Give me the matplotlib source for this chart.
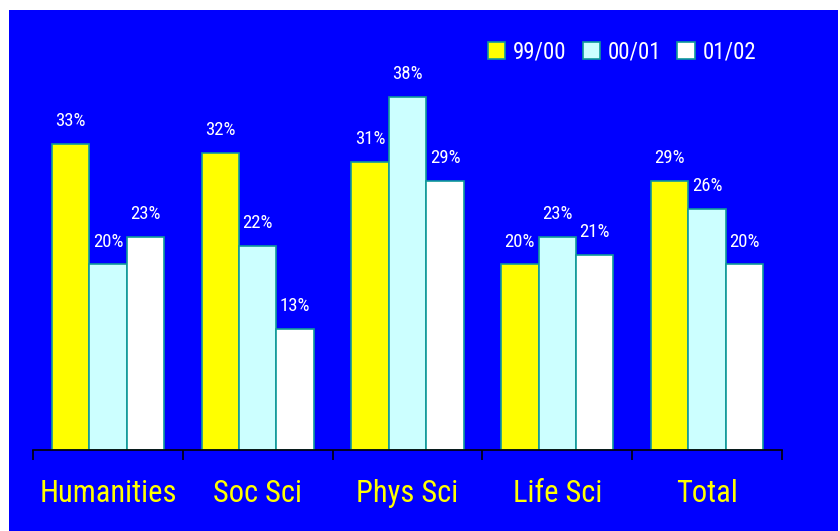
import matplotlib
matplotlib.use("Agg")
import matplotlib.pyplot as plt
from matplotlib.patches import Rectangle, Patch
import numpy as np

categories = ["Humanities", "Soc Sci", "Phys Sci", "Life Sci", "Total"]
series_names = ["99/00", "00/01", "01/02"]
v9900 = [33, 32, 31, 20, 29]
v0001 = [20, 22, 38, 23, 26]
v0102 = [23, 13, 29, 21, 20]
colors = ["#ffff00", "#ccffff", "#ffffff"]
edge = "#119999"
BLUE = "#0000ff"
FONT = ["Roboto Condensed", "DejaVu Sans"]

fig = plt.figure(figsize=(8.4, 5.31), dpi=100)
fig.patch.set_facecolor("white")
fig.add_artist(Rectangle((9/840, 0), (838-9)/840, (531-10)/531,
                         transform=fig.transFigure, facecolor=BLUE,
                         edgecolor="none", zorder=0))

left, right = 33/840, 782/840
bottom = (531-450)/531
top_px = 10
ax = fig.add_axes([left, bottom, right-left, (450-top_px)/531])
ax.set_facecolor("none")
ppu = 9.28
ax.set_ylim(0, (450-top_px)/ppu)
ax.set_xlim(0, len(categories))

w = 0.25
x = np.arange(len(categories)) + 0.5
for i, (vals, c) in enumerate(zip([v9900, v0001, v0102], colors)):
    bars = ax.bar(x + (i-1)*w, vals, width=w, color=c, edgecolor=edge,
                  linewidth=1.2, zorder=2)
    for b, v in zip(bars, vals):
        ax.annotate(f"{v}%", (b.get_x()+b.get_width()/2, v),
                    xytext=(0, 10), textcoords="offset points",
                    ha="center", va="bottom", color="white",
                    fontsize=13.5, family=FONT, fontweight="normal")

for s in ["top", "right", "left"]:
    ax.spines[s].set_visible(False)
ax.spines["bottom"].set_color("black")
ax.spines["bottom"].set_linewidth(1.2)
ax.set_yticks([])
ax.set_xticks(np.arange(len(categories)+1))
ax.set_xticklabels([])
ax.set_xticks(x, minor=True)
ax.set_xticklabels(categories, minor=True)
ax.tick_params(axis="x", which="major", length=7, width=1.2, color="black", direction="out")
ax.tick_params(axis="x", which="minor", length=0, pad=21, labelcolor="#ffff00",
               labelsize=22)
for t in ax.get_xticklabels(minor=True):
    t.set_family(FONT)
    t.set_fontweight("normal")

handles = [Patch(facecolor=c, edgecolor=edge, linewidth=1.2) for c in colors]
leg = fig.legend(handles, series_names, loc="center", bbox_to_anchor=(622/840, 1-52/531),
                 ncol=3, frameon=False, handlelength=0.75, handleheight=0.75,
                 handletextpad=0.35, columnspacing=0.7,
                 prop={"family": FONT, "size": 16.5, "weight": "normal"})
for t in leg.get_texts():
    t.set_color("white")

fig.savefig("out.png", dpi=100)
